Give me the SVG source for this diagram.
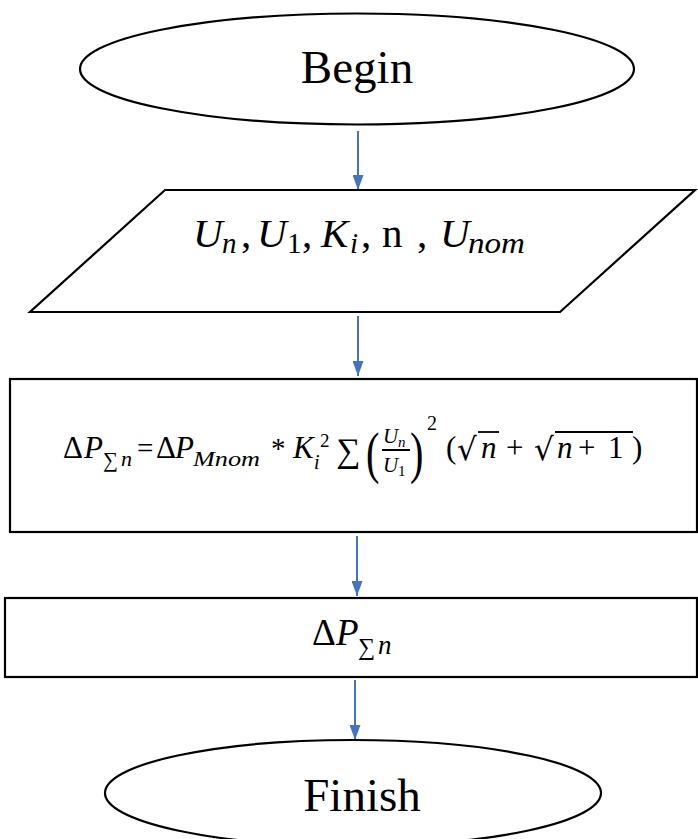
<svg xmlns="http://www.w3.org/2000/svg" width="698" height="839" viewBox="0 0 698 839">
<defs>
<marker id="ah" markerWidth="15" markerHeight="11" refX="15" refY="5.5" orient="auto" markerUnits="userSpaceOnUse" viewBox="0 0 15 11">
<path d="M0,0 L15,5.5 L0,11 Z" fill="#4472C4"/>
</marker>
<style>
.shape{fill:#fff;stroke:#000;stroke-width:2.2}
.conn{stroke:#4472C4;stroke-width:2;fill:none}
.t{font-family:"Liberation Serif","Times New Roman",serif;fill:#000}
.it{font-family:"Liberation Serif","Times New Roman",serif;font-style:italic;fill:#000}
.up{font-family:"Liberation Serif","DejaVu Serif",serif;fill:#000}
.dj{font-family:"DejaVu Serif",serif;fill:#000}
</style>
</defs>
<rect width="698" height="839" fill="#fff"/>
<g id="connectors">
<line class="conn" x1="358" y1="131" x2="358" y2="190" marker-end="url(#ah)"/>
<line class="conn" x1="358" y1="316" x2="358" y2="376" marker-end="url(#ah)"/>
<line class="conn" x1="357" y1="536" x2="357" y2="596" marker-end="url(#ah)"/>
<line class="conn" x1="355" y1="680" x2="355" y2="740" marker-end="url(#ah)"/>
</g>
<g id="begin">
<ellipse class="shape" cx="357" cy="69" rx="277" ry="55.5"/>
<text class="t" x="357" y="83" font-size="47" text-anchor="middle">Begin</text>
</g>
<g id="input">
<polygon class="shape" points="165,190 695,190 560,312 30,312"/>
<text class="it" x="193" y="247" font-size="41">U</text>
<text class="it" x="222" y="253" font-size="29">n</text>
<text class="t" x="241" y="247" font-size="41">,</text>
<text class="it" x="257" y="247" font-size="41">U</text>
<text class="t" x="287" y="253" font-size="29">1</text>
<text class="t" x="302" y="247" font-size="41">,</text>
<text class="it" x="321" y="247" font-size="41">K</text>
<text class="it" x="350" y="253" font-size="29">i</text>
<text class="t" x="361" y="247" font-size="41">,</text>
<text class="t" x="382" y="247" font-size="41">n</text>
<text class="t" x="417" y="247" font-size="41">,</text>
<text class="it" x="440" y="247" font-size="41">U</text>
<text class="it" x="468" y="253" font-size="29" textLength="57" lengthAdjust="spacingAndGlyphs">nom</text>
</g>
<g id="formula">
<rect class="shape" x="10" y="379" width="687" height="153"/>
<text class="up" x="63" y="458" font-size="31">Δ</text>
<text class="it" x="84" y="458" font-size="31">P</text>
<text class="up" x="103" y="467" font-size="21">∑</text>
<text class="it" x="121" y="466" font-size="22">n</text>
<text class="up" x="137" y="458" font-size="29">=</text>
<text class="up" x="156" y="458" font-size="31">Δ</text>
<text class="it" x="175" y="458" font-size="31">P</text>
<text class="it" x="193" y="466" font-size="22" textLength="67" lengthAdjust="spacingAndGlyphs">Mnom</text>
<text class="up" x="271" y="458" font-size="29">*</text>
<text class="it" x="293" y="458" font-size="31">K</text>
<text class="up" x="320" y="447" font-size="19">2</text>
<text class="it" x="314" y="469" font-size="20">i</text>
<text class="up" x="336" y="462" font-size="34">∑</text>
<text class="up" x="0" y="0" font-size="56" transform="translate(366,472) scale(0.72,1)">(</text>
<text class="it" x="383" y="443" font-size="21">U</text>
<text class="it" x="398" y="447" font-size="15">n</text>
<line x1="382" y1="450" x2="410" y2="450" stroke="#000" stroke-width="2"/>
<text class="it" x="383" y="472" font-size="21">U</text>
<text class="up" x="398" y="476" font-size="15">1</text>
<text class="up" x="0" y="0" font-size="56" transform="translate(410,472) scale(0.72,1)">)</text>
<text class="up" x="427" y="430" font-size="20">2</text>
<text class="up" x="446" y="458" font-size="31">(</text>
<text class="dj" x="457" y="460" font-size="31">√</text>
<line x1="478" y1="432" x2="499" y2="432" stroke="#000" stroke-width="1.8"/>
<text class="it" x="481" y="458" font-size="31">n</text>
<text class="up" x="506" y="458" font-size="31">+</text>
<text class="dj" x="534" y="460" font-size="31">√</text>
<line x1="555" y1="432" x2="633" y2="432" stroke="#000" stroke-width="1.8"/>
<text class="it" x="557" y="458" font-size="31">n</text>
<text class="up" x="578" y="458" font-size="31">+</text>
<text class="up" x="608" y="458" font-size="31">1</text>
<text class="up" x="632" y="458" font-size="31">)</text>
</g>
<g id="result">
<rect class="shape" x="5" y="598" width="692" height="79"/>
<text class="up" x="312" y="645" font-size="37">Δ</text>
<text class="it" x="336" y="645" font-size="37">P</text>
<text class="up" x="358" y="655" font-size="24">∑</text>
<text class="it" x="378" y="654" font-size="27">n</text>
</g>
<g id="finish">
<ellipse class="shape" cx="353" cy="793" rx="248" ry="53"/>
<text class="t" x="362" y="811" font-size="47" text-anchor="middle">Finish</text>
</g>
</svg>
